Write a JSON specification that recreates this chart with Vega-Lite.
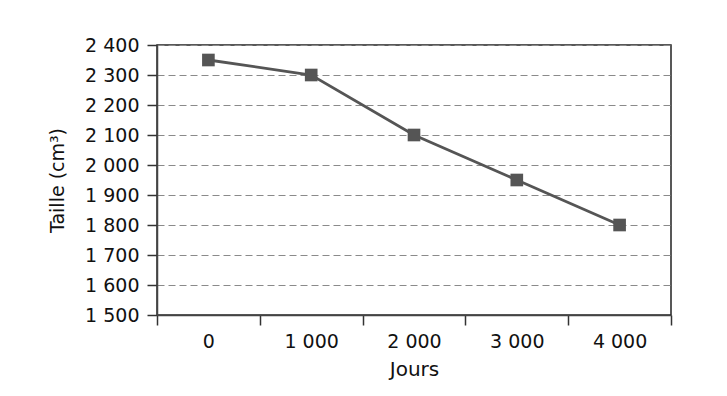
{
  "$schema": "https://vega.github.io/schema/vega-lite/v6.json",
  "autosize": {"type": "none"},
  "padding": {"left": 157, "top": 45, "right": 56, "bottom": 81},
  "width": 514,
  "height": 270,
  "background": "white",
  "config": {
    "font": "DejaVu Sans",
    "view": {"stroke": "#222", "strokeWidth": 1.5},
    "locale": {"number": {"decimal": ",", "thousands": " ", "grouping": [3], "currency": ["", " €"]}}
  },
  "data": {
    "values": [
      {"jours": "0", "taille": 2350},
      {"jours": "1 000", "taille": 2300},
      {"jours": "2 000", "taille": 2100},
      {"jours": "3 000", "taille": 1950},
      {"jours": "4 000", "taille": 1800}
    ]
  },
  "encoding": {
    "x": {
      "field": "jours", "type": "ordinal", "sort": null,
      "scale": {"paddingInner": 0, "paddingOuter": 0},
      "axis": {
        "title": "Jours", "labelAngle": 0, "tickBand": "extent",
        "labelFontSize": 19, "titleFontSize": 20, "titleFontWeight": "normal",
        "labelColor": "#111", "titleColor": "#111",
        "domainColor": "#444", "domainWidth": 1.5, "tickColor": "#333", "tickWidth": 1.5, "tickSize": 10,
        "labelPadding": 7, "titlePadding": 8, "grid": false
      }
    },
    "y": {
      "field": "taille", "type": "quantitative",
      "scale": {"domain": [1500, 2400], "nice": false, "zero": false},
      "axis": {
        "title": "Taille (cm³)", "values": [1500, 1600, 1700, 1800, 1900, 2000, 2100, 2200, 2300, 2400],
        "format": ",d",
        "labelFontSize": 19, "titleFontSize": 19, "titleFontWeight": "normal",
        "labelColor": "#111", "titleColor": "#111",
        "domainColor": "#444", "domainWidth": 1.5, "tickColor": "#333", "tickWidth": 1.5, "tickSize": 10,
        "labelPadding": 8, "titlePadding": 17,
        "grid": true, "gridColor": "#8a8a8a", "gridDash": [7, 4], "gridWidth": 1.2
      }
    }
  },
  "layer": [
    {"mark": {"type": "line", "color": "#555", "strokeWidth": 2.8}},
    {"mark": {"type": "point", "shape": "square", "filled": true, "size": 160, "color": "#555", "opacity": 1}}
  ]
}
